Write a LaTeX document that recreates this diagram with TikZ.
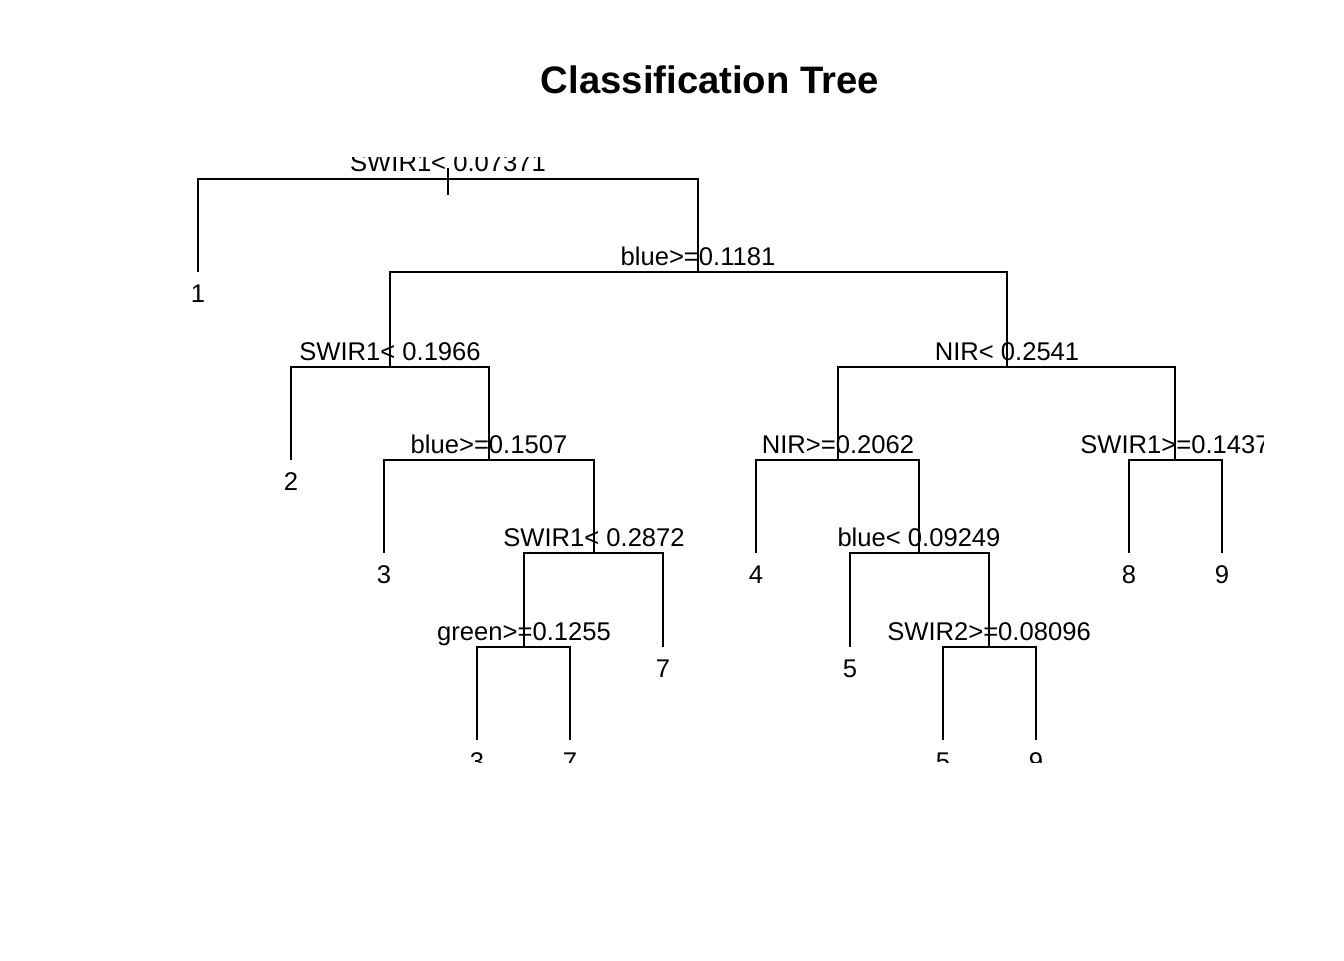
\documentclass[tikz,border=0pt]{standalone}
\usepackage{fontspec}
\setmainfont{Liberation Sans}
\begin{document}
\begin{tikzpicture}[x=0.75pt,y=-0.75pt,
  branch/.style={line width=1.5pt},
  splitlab/.style={anchor=base,inner sep=0pt,font=\fontsize{19.2}{21}\selectfont},
  leaflab/.style={anchor=base,inner sep=0pt,font=\fontsize{19.2}{21}\selectfont}]
            \useasboundingbox (0,0) rectangle (1344,960);
            \node[anchor=base,inner sep=0pt,font=\fontsize{28.7}{32}\selectfont\bfseries] (title) at (710,93) {Classification Tree};

            \begin{scope}
            \clip (100,157) rectangle (1263,762);
            % split points
            \coordinate (n1) at (448,179);
            \coordinate (n3) at (698,272);
            \coordinate (n6) at (390,367);
            \coordinate (n13) at (489,460);
            \coordinate (n27) at (594,553);
            \coordinate (n54) at (524,647);
            \coordinate (n7) at (1007,367);
            \coordinate (n14) at (838,460);
            \coordinate (n29) at (919,553);
            \coordinate (n59) at (989,647);
            \coordinate (n15) at (1175,460);
            % leaves
            \coordinate (l2) at (198,272);
            \coordinate (l12) at (291,460);
            \coordinate (l26) at (384,553);
            \coordinate (l108) at (477,740);
            \coordinate (l109) at (570,740);
            \coordinate (l55) at (663,647);
            \coordinate (l28) at (756,553);
            \coordinate (l58) at (850,647);
            \coordinate (l118) at (943,740);
            \coordinate (l119) at (1036,740);
            \coordinate (l30) at (1129,553);
            \coordinate (l31) at (1222,553);
            \coordinate (rtop) at (448,168);
            \coordinate (rbot) at (448,195);

            \draw[branch] (rtop)--(rbot);
            \draw[branch] (n1) -| (l2);
            \draw[branch] (n1) -| (n3);
            \draw[branch] (n3) -| (n6);
            \draw[branch] (n3) -| (n7);
            \draw[branch] (n6) -| (l12);
            \draw[branch] (n6) -| (n13);
            \draw[branch] (n13) -| (l26);
            \draw[branch] (n13) -| (n27);
            \draw[branch] (n27) -| (n54);
            \draw[branch] (n27) -| (l55);
            \draw[branch] (n54) -| (l108);
            \draw[branch] (n54) -| (l109);
            \draw[branch] (n7) -| (n14);
            \draw[branch] (n7) -| (n15);
            \draw[branch] (n14) -| (l28);
            \draw[branch] (n14) -| (n29);
            \draw[branch] (n29) -| (l58);
            \draw[branch] (n29) -| (n59);
            \draw[branch] (n59) -| (l118);
            \draw[branch] (n59) -| (l119);
            \draw[branch] (n15) -| (l30);
            \draw[branch] (n15) -| (l31);

            \node[splitlab] (t1) at ([yshift=6pt]n1) {SWIR1< 0.07371};
            \node[splitlab] (t3) at ([yshift=5.25pt]n3) {blue>=0.1181};
            \node[splitlab] (t6) at ([yshift=5.25pt]n6) {SWIR1< 0.1966};
            \node[splitlab] (t13) at ([yshift=5.25pt]n13) {blue>=0.1507};
            \node[splitlab] (t27) at ([yshift=5.25pt]n27) {SWIR1< 0.2872};
            \node[splitlab] (t54) at ([yshift=5.25pt]n54) {green>=0.1255};
            \node[splitlab] (t7) at ([yshift=5.25pt]n7) {NIR< 0.2541};
            \node[splitlab] (t14) at ([yshift=5.25pt]n14) {NIR>=0.2062};
            \node[splitlab] (t29) at ([yshift=5.25pt]n29) {blue< 0.09249};
            \node[splitlab] (t59) at ([yshift=5.25pt]n59) {SWIR2>=0.08096};
            \node[splitlab] (t15) at ([yshift=5.25pt]n15) {SWIR1>=0.1437};

            \node[leaflab] (v2) at ([yshift=-22.5pt]l2) {1};
            \node[leaflab] (v12) at ([yshift=-22.5pt]l12) {2};
            \node[leaflab] (v26) at ([yshift=-22.5pt]l26) {3};
            \node[leaflab] (v108) at ([yshift=-22.5pt]l108) {3};
            \node[leaflab] (v109) at ([yshift=-22.5pt]l109) {7};
            \node[leaflab] (v55) at ([yshift=-22.5pt]l55) {7};
            \node[leaflab] (v28) at ([yshift=-22.5pt]l28) {4};
            \node[leaflab] (v58) at ([yshift=-22.5pt]l58) {5};
            \node[leaflab] (v118) at ([yshift=-22.5pt]l118) {5};
            \node[leaflab] (v119) at ([yshift=-22.5pt]l119) {9};
            \node[leaflab] (v30) at ([yshift=-22.5pt]l30) {8};
            \node[leaflab] (v31) at ([yshift=-22.5pt]l31) {9};
            \end{scope}
\end{tikzpicture}
\end{document}
